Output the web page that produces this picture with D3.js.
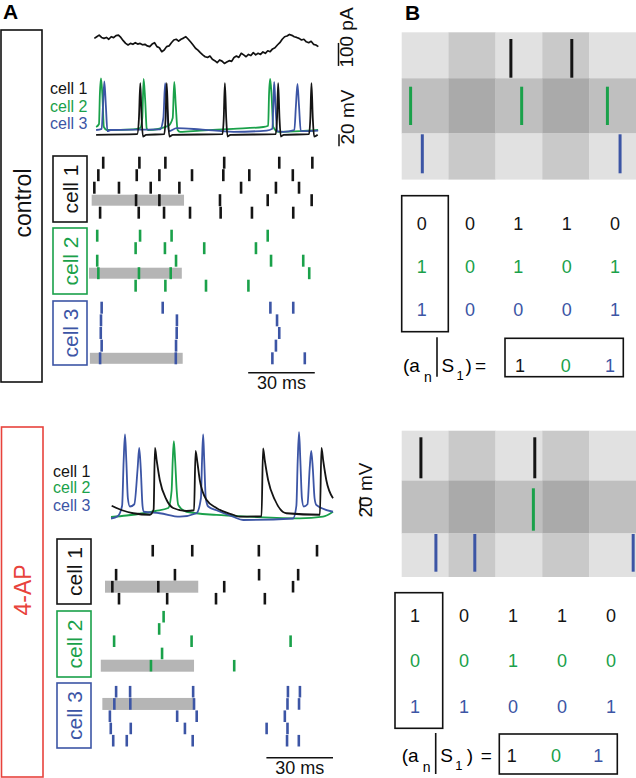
<!DOCTYPE html>
<html>
<head>
<meta charset="utf-8">
<script src="https://cdn.jsdelivr.net/npm/d3@7"></script>
<style>
body { margin: 0; background: #fff; }
svg { display: block; font-family: "Liberation Sans", Arial, Helvetica, sans-serif; }
</style>
</head>
<body>
<svg id="fig" width="636" height="778"></svg>
<script>
// ---- data ----
var cellNames = ["cell 1", "cell 2", "cell 3"];
var cellColors = ["#141414", "#1aa14a", "#3c55a5"];

// injected current (pA), sampled every currentDt ms from currentT0
var currentT0 = -0.3, currentDt = 1.085;
var currentPA = [42,49,56,46,42,46,38,49,45,54,56,46,32,20,13,20,16,23,17,20,
	14,16,9,6,17,23,6,1,-16,-9,6,9,23,35,38,30,38,43,49,38,
	26,13,-1,-9,-20,-30,-38,-41,-35,-49,-55,-64,-52,-57,-67,-61,-55,-58,-41,-35,
	-41,-23,-30,-38,-28,-33,-20,-30,-23,-28,-17,-23,-12,-16,-4,1,13,23,38,49,
	52,59,55,49,46,42,35,38,27,23,29,16,13,6];

// membrane potential [ms, mV], control
var ctrlV1 = [[0.5,-68],[19,-67],[19.8,-40],[20.4,18],[21.0,-40],[21.6,-71],[23,-68],[31.2,-67],[31.8,-40],[32.3,18],[32.9,-40],[33.5,-71],[35,-68],
	[57.4,-67],[58,-40],[58.5,18],[59.1,-40],[59.7,-71],[61,-68],[81.4,-67],[82,-40],[82.5,18],[83.1,-40],[83.7,-71],[85,-68],
	[96.4,-67],[97,-40],[97.5,18],[98.1,-40],[98.7,-71],[100.3,-68]];
var ctrlV2 = [[0.5,-55],[1.8,-50],[2.2,0],[2.7,26],[3.3,0],[4.0,-55],[5.3,-60],[17.3,-59],[20.3,-57],[21.3,-40],[21.9,25],[22.6,-10],[23.3,-58],[24,-60],
	[33,-53],[35.0,-40],[35.7,20],[36.4,-20],[37.2,-60],[38.3,-63],[47.3,-61],[62.3,-58],[75.8,-55],[78,-53],[78.4,0],[78.9,25],[79.5,0],[80.3,-55],
	[82.6,-63],[92.3,-62],[100.5,-60]];
var ctrlV3 = [[0.5,-60],[3.0,-58],[3.6,-20],[4.2,21],[4.9,-20],[5.6,-62],[7,-60],[29.3,-59],[30.8,-40],[31.6,18],[32.4,-20],[33.2,-62],[36.8,-57],
	[47.3,-59],[62.3,-63],[77.3,-61],[79.9,-58],[80.3,-20],[80.7,20],[81.3,-20],[82.1,-62],[84.8,-63],[89.8,-60],[90.5,-20],[91.2,17],[91.9,-20],
	[92.7,-62],[100.5,-61]];

// membrane potential [ms, mV], 4-AP
var apV1 = [[0.3,-50],[5,-56],[10,-60],[17.5,-62],[19.2,-55],[19.8,27],[20.6,10],[22,-16],[25,-42],[28,-53],[34,-57],[37.4,-56],[38.1,23],[38.9,8],
	[40,-16],[43,-42],[47.5,-53],[55,-62],[58,-64.6],[67.8,-64],[68.5,26.6],[69.3,10],[70.8,-16],[73.8,-42],[79,-60],[94.1,-62],[94.8,27],
	[95.6,10],[97,-16],[100,-40]];
var apV2 = [[0,-65],[7,-63],[14.5,-60],[20,-57],[25.8,-53],[27.3,-30],[27.8,10],[28.3,36],[28.9,10],[29.6,-30],[30.3,-49],[34,-58],[47.5,-62.3],
	[62.5,-64.6],[85,-66.8],[95.5,-64.6],[100,-58]];
var apV3 = [[0,-67],[3,-64],[5.0,-50],[5.7,10],[6.3,45],[6.9,10],[7.6,-40],[8.5,-51],[10.5,-48],[12.0,0],[12.7,27],[13.4,0],[14.2,-50],[14.8,-58],
	[22,-60],[31,-64.6],[38.5,-60],[40.5,-40],[41,10],[41.5,45],[42,10],[42.7,-40],[43.8,-51],[47.5,-56],[55,-64.6],[59.5,-69],[82,-67],
	[83.5,-50],[84.1,10],[84.7,48],[85.3,10],[86,-40],[86.8,-51],[88.5,-48],[89.5,0],[90.2,23],[90.9,0],[91.7,-40],[92.5,-49],[100,-58]];

// spike rasters (ms), five trials per cell
var ctrlSpikes1 = [[3.7,20.0,31.7,58.2,83.0,97.9],[1.5,18.8,29.0,43.7,57.8,69.5,89.1],[-0.3,10.8,25.1,38.0,65.8,81.5,91.9],
	[18.5,29.0,56.3,77.8,97.6],[2.3,19.7,31.1,42.8,56.6,70.7,89.3]];
var ctrlSpikes2 = [[1.0,20.3,34.5,77.8],[18.3,31.5,49.2,72.5],[1.0,36.5,79.3,93.8],[1.5,19.8,34.1,96.5],[18.3,31.7,50.0,69.1]];
var ctrlSpikes3 = [[3.0,30.5,79.0,89.3],[2.7,36.9,82.0],[2.6,36.8,83.0],[3.0,36.5,81.5],[2.3,36.4,79.9,94.5]];
var apSpikes1 = [[18.8,36.6,66.6,92.8],[],[2.3,28.8,66.7,84.3],[0.6,21.3,51.0,82.0],[3.6,25.3,47.3,69.3]];
var apSpikes2 = [[23.7],[21.7],[1.4,36.3,80.9],[23.0],[18.0,55.5]];
var apSpikes3 = [[2.3,8.6,37.0,79.7,85.1],[1.5,8.7,37.4,79.5,84.7],[-0.5,29.8,38.6,78.3],[-0.1,8.9,33.3,70.1,79.5],[1.0,7.1,36.8,79.3,84.6]];

// analysis window per cell: [trial, start ms, end ms]
var ctrlWindows = [[3,-1.5,40.1],[3,-2.7,39.1],[4,-2.3,39.5]];
var apWindows = [[3,-2.7,39.3],[4,-4.6,37.4],[1,-3.9,37.8]];

// panel B: spikes inside 5 bins of 10 ms, and the binary words
var ctrlBinSpikes = [[23.3,36.3],[1.9,25.6,43.9],[4.4,46.6]];
var apBinSpikes = [[4.1,28.4],[28.1],[7.3,15.6,49.4]];
var ctrlMatrix = [[0,0,1,1,0],[1,0,1,0,1],[1,0,0,0,1]];
var apMatrix = [[1,0,1,1,0],[0,0,1,0,0],[1,1,0,0,1]];
var ctrlWord = [1,0,1];
var apWord = [1,0,1];

// ---- drawing ----
var svg = d3.select("#fig");
svg.append("rect").attr("width", 636).attr("height", 778).attr("fill", "#fff");

svg.append("text").attr("x", 3).attr("y", 19).attr("font-size", 21).attr("font-weight", "bold").text("A");
svg.append("text").attr("x", 405).attr("y", 19.5).attr("font-size", 21).attr("font-weight", "bold").text("B");

function vText(g, x, y, size, color, txt) {
	return g.append("text")
		.attr("transform", "translate(" + x + "," + y + ") rotate(-90)")
		.attr("text-anchor", "middle").attr("font-size", size).attr("fill", color).text(txt);
}

function drawCondition(cfg) {
	var g = svg.append("g");

	g.append("rect").attr("x", cfg.frame[0]).attr("y", cfg.frame[1]).attr("width", cfg.frame[2]).attr("height", cfg.frame[3])
		.attr("fill", "none").attr("stroke", cfg.frameColor).attr("stroke-width", 1.6);
	vText(g, cfg.labelPos[0], cfg.labelPos[1], 23, cfg.frameColor, cfg.label);

	var x = d3.scaleLinear().domain([0, 100]).range(cfg.xRange);
	var yV = d3.scaleLinear().domain(cfg.vDomain).range(cfg.vRange);
	var line = d3.line().x(function(d){ return x(d[0]); }).y(function(d){ return yV(d[1]); }).curve(d3.curveMonotoneX);

	[1, 2, 0].forEach(function(i){
		g.append("path").attr("d", line(cfg.traces[i])).attr("fill", "none")
			.attr("stroke", cellColors[i]).attr("stroke-width", 1.8).attr("stroke-linejoin", "round");
	});

	g.selectAll(null).data(cellNames).join("text")
		.attr("x", cfg.legendX).attr("y", function(d, i){ return cfg.legendY[i]; })
		.attr("font-size", 16).attr("fill", function(d, i){ return cellColors[i]; })
		.text(function(d){ return d; });

	// 20 mV bar
	g.append("line").attr("x1", cfg.mvBarX).attr("x2", cfg.mvBarX)
		.attr("y1", yV(cfg.mvBar[0])).attr("y2", yV(cfg.mvBar[1])).attr("stroke", "#111").attr("stroke-width", 1.5);
	vText(g, cfg.mvText[0], cfg.mvText[1], 19, "#111", "20 mV");

	// rasters
	cfg.spikes.forEach(function(rows, c){
		var yr = d3.scalePoint().domain(d3.range(rows.length)).range(cfg.rowRange[c]);
		var w = cfg.windows[c];
		g.append("rect").attr("x", x(w[1])).attr("y", yr(w[0]) - cfg.barH / 2)
			.attr("width", x(w[2]) - x(w[1])).attr("height", cfg.barH).attr("fill", "#b5b5b5");

		var pts = [];
		rows.forEach(function(r, ri){ r.forEach(function(t){ pts.push([t, ri]); }); });
		g.selectAll(null).data(pts).join("line")
			.attr("x1", function(d){ return x(d[0]); }).attr("x2", function(d){ return x(d[0]); })
			.attr("y1", function(d){ return yr(d[1]) - cfg.tickHalf; }).attr("y2", function(d){ return yr(d[1]) + cfg.tickHalf; })
			.attr("stroke", cellColors[c]).attr("stroke-width", 2.6);

		var bx = cfg.cellBoxX, by = cfg.cellBoxY[c];
		g.append("rect").attr("x", bx[0]).attr("y", by[0]).attr("width", bx[1] - bx[0]).attr("height", by[1] - by[0])
			.attr("fill", "none").attr("stroke", cellColors[c]).attr("stroke-width", 1.6);
		vText(g, bx[1] - 9.5, (by[0] + by[1]) / 2, 21, cellColors[c], cellNames[c]);
	});

	// 30 ms bar
	g.append("line").attr("x1", x(cfg.msBar[0])).attr("x2", x(cfg.msBar[1]))
		.attr("y1", cfg.msBarY).attr("y2", cfg.msBarY).attr("stroke", "#111").attr("stroke-width", 1.4);
	g.append("text").attr("x", (x(cfg.msBar[0]) + x(cfg.msBar[1])) / 2).attr("y", cfg.msBarY + 16.5)
		.attr("text-anchor", "middle").attr("font-size", 18).attr("fill", "#111").text("30 ms");

	return x;
}

var ctrlX = drawCondition({
	frame: [1, 30, 41, 352], frameColor: "#111", label: "control", labelPos: [31, 203],
	xRange: [95, 317], vDomain: [-65, 27], vRange: [133, 77.8],
	traces: [ctrlV1, ctrlV2, ctrlV3],
	legendX: 50, legendY: [94, 111.5, 128.5],
	mvBar: [-87, -67], mvBarX: 339, mvText: [354, 117],
	spikes: [ctrlSpikes1, ctrlSpikes2, ctrlSpikes3], windows: ctrlWindows,
	rowRange: [[162.7, 212.7], [235.7, 285.7], [307.7, 358.3]], tickHalf: 6, barH: 11,
	cellBoxX: [53, 87], cellBoxY: [[156, 222], [228, 294], [301, 365]],
	msBar: [69, 99], msBarY: 372.7
});

drawCondition({
	frame: [1.5, 427, 41.5, 350], frameColor: "#e8433c", label: "4-AP", labelPos: [31, 590],
	xRange: [111, 333], vDomain: [-65, 45], vRange: [517, 434.5],
	traces: [apV1, apV2, apV3],
	legendX: 53, legendY: [476.5, 493.3, 510.5],
	mvBar: [-58, -38], mvBarX: 360.5, mvText: [372, 490],
	spikes: [apSpikes1, apSpikes2, apSpikes3], windows: apWindows,
	rowRange: [[550.7, 598.7], [616.7, 665.7], [691.7, 740.7]], tickHalf: 5.8, barH: 12,
	cellBoxX: [57, 91], cellBoxY: [[539, 604], [611, 677], [683, 748]],
	msBar: [70, 100], msBarY: 757.7
});

// injected current trace (control only)
var yI = d3.scaleLinear().domain([0, 100]).range([48, 25]);
var currentLine = d3.line()
	.x(function(d, i){ return ctrlX(currentT0 + i * currentDt); })
	.y(function(d){ return yI(d); });
svg.append("path").attr("d", currentLine(currentPA)).attr("fill", "none").attr("stroke", "#111")
	.attr("stroke-width", 1.7).attr("stroke-linejoin", "round");
svg.append("line").attr("x1", 338.5).attr("x2", 338.5).attr("y1", yI(-78)).attr("y2", yI(22))
	.attr("stroke", "#111").attr("stroke-width", 1.5);
vText(svg, 353, 37.5, 19, "#111", "100 pA");

// panel B
function drawB(cfg) {
	var g = svg.append("g");
	var xb = d3.scaleLinear().domain([0, 50]).range([401.7, 636]);
	var e = cfg.rowEdges;
	var cells = [];
	d3.range(3).forEach(function(r){ d3.range(5).forEach(function(c){ cells.push([r, c]); }); });
	g.selectAll(null).data(cells).join("rect")
		.attr("x", function(d){ return xb(d[1] * 10); }).attr("width", xb(10) - xb(0) + 0.3)
		.attr("y", function(d){ return e[d[0]]; }).attr("height", function(d){ return e[d[0] + 1] - e[d[0]] + 0.3; })
		.attr("fill", function(d){
			if (d[0] === 1) return d[1] % 2 ? "#aaaaaa" : "#bfbfbf";
			return d[1] % 2 ? "#c9c9c9" : "#e1e1e1";
		});

	cfg.binSpikes.forEach(function(row, r){
		g.selectAll(null).data(row).join("line")
			.attr("x1", function(t){ return xb(t); }).attr("x2", function(t){ return xb(t); })
			.attr("y1", cfg.tickY[r][0]).attr("y2", cfg.tickY[r][1])
			.attr("stroke", cellColors[r]).attr("stroke-width", 3);
	});

	var mx = d3.scalePoint().domain(d3.range(5)).range(cfg.matX);
	var my = d3.scalePoint().domain(d3.range(3)).range(cfg.matY);
	cfg.matrix.forEach(function(row, r){
		g.selectAll(null).data(row).join("text")
			.attr("x", function(d, c){ return mx(c); }).attr("y", my(r) + 6.5)
			.attr("text-anchor", "middle").attr("font-size", 18).attr("fill", cellColors[r])
			.text(function(d){ return d; });
	});
	var cb = cfg.colBox;
	g.append("rect").attr("x", cb[0]).attr("y", cb[1]).attr("width", cb[2] - cb[0]).attr("height", cb[3] - cb[1])
		.attr("fill", "none").attr("stroke", "#111").attr("stroke-width", 1.6);

	// (a_n | S_1) = [word]
	var ex = cfg.exprX, ey = cfg.exprY;
	g.append("text").attr("x", ex).attr("y", ey).attr("font-size", 19).text("(a");
	g.append("text").attr("x", ex + 21).attr("y", ey + 10).attr("font-size", 14).text("n");
	g.append("line").attr("x1", ex + 34).attr("x2", ex + 34).attr("y1", cfg.vecBox[1] - 1).attr("y2", cfg.vecBox[3])
		.attr("stroke", "#111").attr("stroke-width", 1.6);
	g.append("text").attr("x", ex + 38.5).attr("y", ey).attr("font-size", 19).text("S");
	g.append("text").attr("x", ex + 53.5).attr("y", ey + 8.5).attr("font-size", 13).text("1");
	g.append("text").attr("x", ex + cfg.closeDx).attr("y", ey).attr("font-size", 19).text(")");
	g.append("text").attr("x", ex + cfg.eqDx).attr("y", ey).attr("font-size", 19).text("=");
	var vb = cfg.vecBox;
	g.append("rect").attr("x", vb[0]).attr("y", vb[1]).attr("width", vb[2] - vb[0]).attr("height", vb[3] - vb[1])
		.attr("fill", "none").attr("stroke", "#111").attr("stroke-width", 1.6);
	g.selectAll(null).data(cfg.word).join("text")
		.attr("x", function(d, i){ return cfg.wordX[i]; }).attr("y", ey)
		.attr("text-anchor", "middle").attr("font-size", 18).attr("fill", function(d, i){ return cellColors[i]; })
		.text(function(d){ return d; });
}

drawB({
	rowEdges: [32.3, 78.3, 133.3, 179.3], tickY: [[39, 77.7], [86.7, 125], [134.3, 173.3]],
	binSpikes: ctrlBinSpikes, matrix: ctrlMatrix, word: ctrlWord,
	matX: [421.7, 615], matY: [223.3, 309.3], colBox: [401.7, 195.7, 448.3, 331.7],
	exprX: 403, exprY: 371.7, closeDx: 62.5, eqDx: 72,
	vecBox: [505, 338.3, 623.3, 376.7], wordX: [520, 565.7, 610]
});

drawB({
	rowEdges: [430.7, 480.7, 533.3, 576.7], tickY: [[437.3, 478.3], [488.3, 530.7], [534, 571.7]],
	binSpikes: apBinSpikes, matrix: apMatrix, word: apWord,
	matX: [415, 611], matY: [615, 706], colBox: [395, 592.7, 442.7, 728.3],
	exprX: 401.7, exprY: 761.7, closeDx: 65, eqDx: 79,
	vecBox: [499.3, 734, 617.3, 774], wordX: [511.7, 556, 598.3]
});
</script>
</body>
</html>
